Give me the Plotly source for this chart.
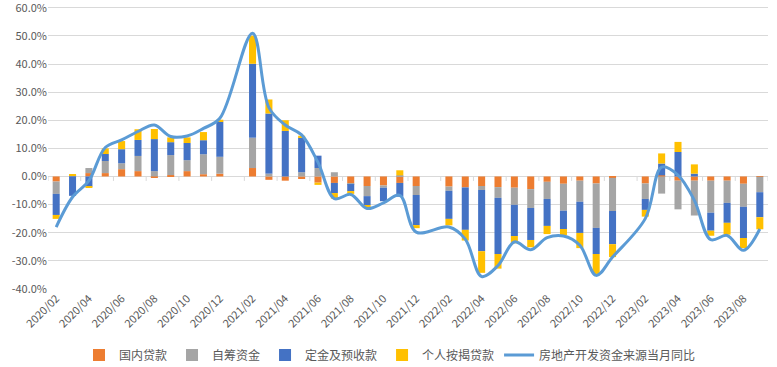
import plotly.graph_objects as go

months = [
    "2020/02", "2020/03", "2020/04", "2020/05", "2020/06", "2020/07", "2020/08", "2020/09", "2020/10", "2020/11", "2020/12",
    "2021/01", "2021/02", "2021/03", "2021/04", "2021/05", "2021/06", "2021/07", "2021/08", "2021/09", "2021/10", "2021/11", "2021/12",
    "2022/01", "2022/02", "2022/03", "2022/04", "2022/05", "2022/06", "2022/07", "2022/08", "2022/09", "2022/10", "2022/11", "2022/12",
    "2023/01", "2023/02", "2023/03", "2023/04", "2023/05", "2023/06", "2023/07", "2023/08", "2023/09",
]

domestic_loans = [
    -1.8, 0.0, 1.2, 1.2, 2.6, 1.9, -0.4, 0.5, 1.9, 0.8, 1.0,
    None, 3.0, -1.2, -1.5, -0.9, -2.2, -2.3, -2.5, -3.4, -3.2, -2.3, -3.4,
    None, -3.6, -3.9, -3.4, -3.8, -4.0, -4.5, -1.9, -2.6, -1.5, -2.5, -0.5,
    None, -2.5, 0.4, -1.5, -1.5, -1.5, -1.5, -2.6, -0.1,
]
self_raised = [
    -4.4, 0.3, 1.8, 4.3, 2.1, 5.4, 1.9, 7.1, 3.9, 7.1, 6.0,
    None, 10.8, 1.0, 0.0, 1.5, 3.0, 1.5, -0.2, -3.6, -0.8, 0.4, -3.2,
    None, -1.5, 0.0, -1.4, -3.8, -6.1, -6.7, -6.1, -9.6, -7.5, -15.8, -11.8,
    None, -5.5, -6.1, -10.2, -12.4, -11.4, -7.9, -8.2, -5.5,
]
deposits = [
    -7.5, -6.9, -3.6, 2.5, 5.0, 5.7, 11.4, 4.6, 6.1, 5.0, 12.5,
    None, 26.3, 21.4, 16.2, 12.3, 4.4, -3.6, -2.5, -3.2, -4.8, -4.9, -10.7,
    None, -10.0, -15.1, -21.8, -20.0, -11.1, -11.4, -9.6, -6.5, -11.1, -9.3, -11.8,
    None, -3.9, 4.2, 8.7, 1.0, -6.4, -7.1, -11.1, -8.9,
]
mortgages = [
    -1.4, 0.4, -0.4, 2.0, 2.9, 3.8, 3.6, 1.7, 2.0, 2.9, 0.7,
    None, 10.0, 5.0, 3.8, 0.7, -0.8, -2.0, -1.0, -0.6, 0.0, 1.8, -1.1,
    None, -2.3, -3.8, -7.7, -5.2, -2.6, -2.6, -2.9, -2.3, -5.4, -7.1, -4.6,
    None, -2.4, 3.6, 3.6, 3.3, -1.8, -4.2, -3.6, -4.3,
]
funding_yoy = [
    -18.0, -7.3, -1.5, 10.3, 13.0, 16.0, 18.3, 14.2, 14.4, 17.1, 20.7,
    None, 51.0, 24.5, 18.3, 14.8, 5.0, -7.9, -6.4, -11.4, -9.4, -6.7, -19.8,
    None, -18.0, -22.3, -35.6, -31.7, -23.3, -26.1, -21.8, -21.2, -24.5, -35.2, -28.7,
    None, -15.0, 3.3, 0.5, -8.5, -22.5, -21.0, -26.3, -18.7,
]
y_ticks = [-40, -30, -20, -10, 0, 10, 20, 30, 40, 50, 60]

bar_series = [
    ("国内贷款", domestic_loans, "#ED7D31"),
    ("自筹资金", self_raised, "#A5A5A5"),
    ("定金及预收款", deposits, "#4472C4"),
    ("个人按揭贷款", mortgages, "#FFC000"),
]

FONT = "Noto Sans CJK SC"
TXT = "#595959"

fig = go.Figure()
for name, vals, color in bar_series:
    fig.add_trace(go.Bar(x=months, y=vals, name=name, marker=dict(color=color, line=dict(width=0))))
fig.add_trace(go.Scatter(
    x=months, y=funding_yoy, name="房地产开发资金来源当月同比", mode="lines",
    line=dict(color="#5B9BD5", width=3, shape="spline", smoothing=1.0), connectgaps=True,
))

# small category-axis tick marks hanging from the 0% axis line, every two categories
shapes = []
n = len(months)
for i in range(0, n + 1, 2):
    shapes.append(dict(type="line", xref="x", yref="y", x0=i - 0.5, x1=i - 0.5, y0=0, y1=-1.6,
                       line=dict(color="#D9D9D9", width=1)))

# plot area spans y 0..289 px; the 60% gridline falls ~8 px below the top edge
fig.update_layout(
    width=777, height=367,
    margin=dict(l=48, r=9, t=0, b=78, autoexpand=False),
    paper_bgcolor="white", plot_bgcolor="white",
    barmode="relative", bargap=0.57,
    font=dict(family=FONT, size=11, color=TXT),
    shapes=shapes,
    showlegend=True,
    legend=dict(orientation="h", x=0.475, xanchor="center", y=-0.228, yanchor="middle",
                font=dict(family=FONT, size=12, color=TXT), traceorder="normal"),
    xaxis=dict(
        type="category", categoryorder="array", categoryarray=months,
        tickmode="array", tickvals=months[::2], ticktext=months[::2],
        tickangle=-45, ticks="", showgrid=False, showline=False, zeroline=False,
        tickfont=dict(family=FONT, size=11, color=TXT), range=[-0.5, n - 0.5],
        automargin=False, ticklabeloverflow="allow",
    ),
    yaxis=dict(
        range=[y_ticks[0] - 0.05, y_ticks[-1] + 2.8],
        tickmode="array", tickvals=y_ticks, ticktext=[f"{v:.1f}%" for v in y_ticks],
        showgrid=True, gridcolor="#D9D9D9", gridwidth=1,
        zeroline=True, zerolinecolor="#D9D9D9", zerolinewidth=1,
        showline=False, ticks="", tickfont=dict(family=FONT, size=11, color=TXT),
        automargin=False, ticklabeloverflow="allow",
    ),
)

fig.write_html("out.html", config={"displayModeBar": False},
               post_script="document.body.style.margin='0';document.body.style.overflow='hidden';")
